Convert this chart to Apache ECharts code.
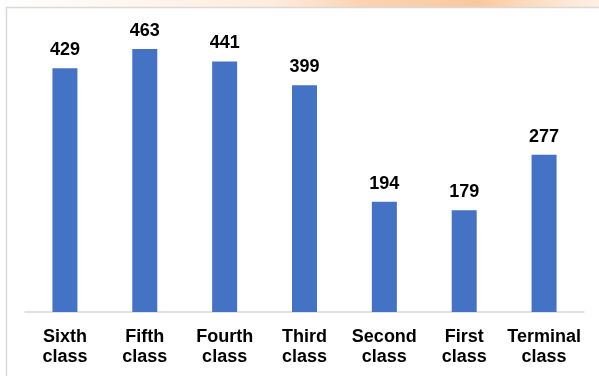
<!DOCTYPE html>
<html>
<head>
<meta charset="utf-8">
<script src="https://cdn.jsdelivr.net/npm/echarts@6/dist/echarts.min.js"></script>
<style>
  html, body { margin: 0; padding: 0; background: #ffffff; }
  #chart { width: 599px; height: 376px; }
</style>
</head>
<body>
<div id="chart"></div>
<script>
// Student counts per class level
const categories = ['Sixth\nclass', 'Fifth\nclass', 'Fourth\nclass', 'Third\nclass', 'Second\nclass', 'First\nclass', 'Terminal\nclass'];
const students = [429, 463, 441, 399, 194, 179, 277];

const chart = echarts.init(document.getElementById('chart'), null, { renderer: 'canvas' });

const font = '"Liberation Sans", Arial, sans-serif';

chart.setOption({
  animation: false,
  backgroundColor: '#ffffff',
  graphic: [
    {
      // warm banner strip along the top edge
      type: 'rect',
      shape: { x: 0, y: 0, width: 599, height: 7 },
      style: {
        fill: new echarts.graphic.LinearGradient(0, 0, 1, 0, [
          { offset: 0, color: 'rgba(252,213,180,0)' },
          { offset: 0.45, color: 'rgba(252,213,180,0.45)' },
          { offset: 0.6, color: 'rgba(251,200,160,0.8)' },
          { offset: 0.8, color: 'rgba(250,190,140,0.85)' },
          { offset: 1, color: 'rgba(252,225,200,0.5)' }
        ])
      },
      silent: true
    },
    {
      // frame around the chart panel
      type: 'rect',
      shape: { x: 6.5, y: 7.5, width: 700, height: 500 },
      style: { fill: 'none', stroke: '#d9d9d9', lineWidth: 1.5 },
      silent: true
    }
  ],
  grid: { left: 25, right: 15, top: 28, bottom: 64 },
  xAxis: {
    type: 'category',
    data: categories,
    axisLine: { show: true, lineStyle: { color: '#d9d9d9', width: 1.5 } },
    axisTick: { show: false },
    axisLabel: {
      interval: 0,
      margin: 15,
      color: '#000000',
      fontFamily: font,
      fontWeight: 'bold',
      fontSize: 18,
      lineHeight: 20
    }
  },
  yAxis: {
    type: 'value',
    min: 0,
    max: 500,
    show: false,
    splitLine: { show: false }
  },
  series: [{
    type: 'bar',
    data: students,
    barWidth: 25,
    itemStyle: { color: '#4472c4' },
    label: {
      show: true,
      position: 'top',
      distance: 9,
      color: '#000000',
      fontFamily: font,
      fontWeight: 'bold',
      fontSize: 18
    }
  }]
});
</script>
</body>
</html>
